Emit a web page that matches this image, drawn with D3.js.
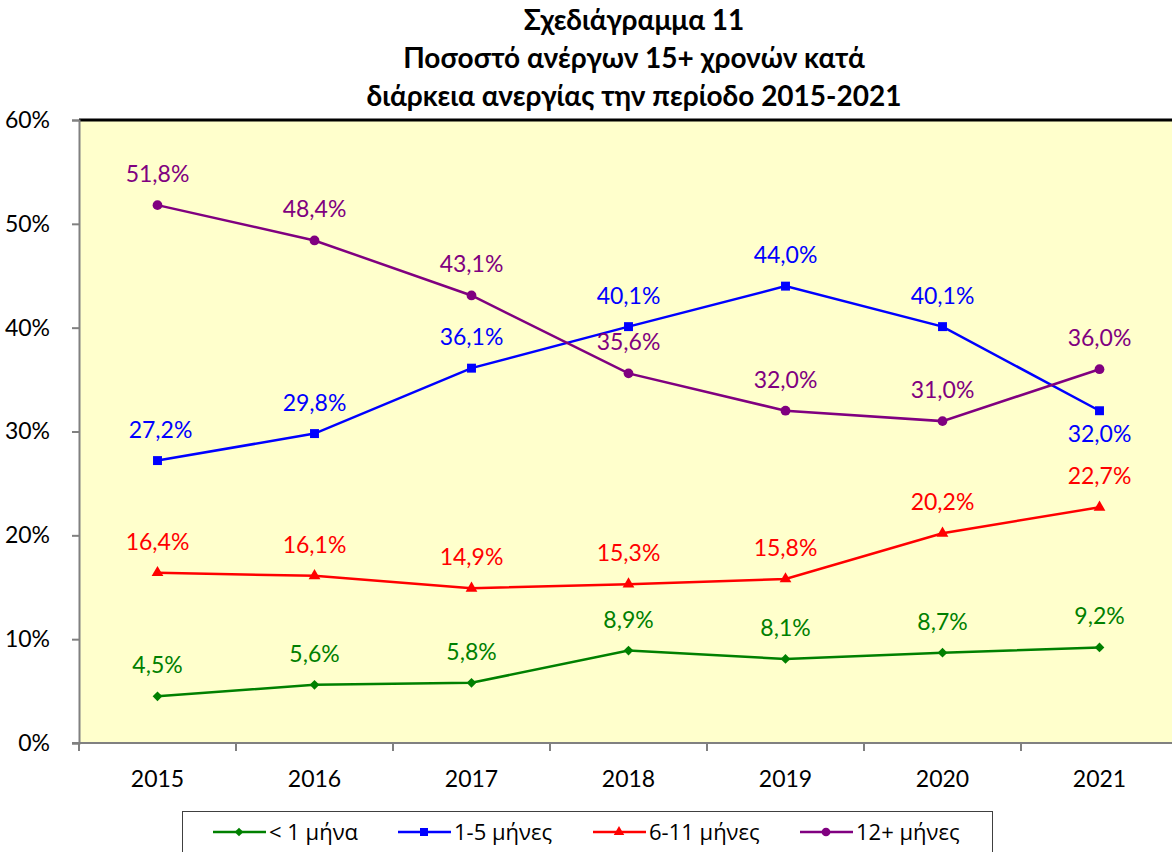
<!DOCTYPE html>
<html>
<head>
<meta charset="utf-8">
<script src="https://cdn.jsdelivr.net/npm/d3@7"></script>
<style>
  body { margin: 0; background: #fff; }
  text { font-family: Lato, "Open Sans", sans-serif; }
</style>
</head>
<body>
<svg id="chart" width="1172" height="852"></svg>
<script>
// data
var years = ["2015", "2016", "2017", "2018", "2019", "2020", "2021"];
var seriesNames = ["< 1 μήνα", "1-5 μήνες", "6-11 μήνες", "12+ μήνες"];
var lessThan1 = [4.5, 5.6, 5.8, 8.9, 8.1, 8.7, 9.2];
var months1to5 = [27.2, 29.8, 36.1, 40.1, 44.0, 40.1, 32.0];
var months6to11 = [16.4, 16.1, 14.9, 15.3, 15.8, 20.2, 22.7];
var months12plus = [51.8, 48.4, 43.1, 35.6, 32.0, 31.0, 36.0];
var yTicks = [0, 10, 20, 30, 40, 50, 60];
var titleLines = ["Σχεδιάγραμμα 11", "Ποσοστό ανέργων 15+ χρονών κατά", "διάρκεια ανεργίας την περίοδο 2015-2021"];

var svg = d3.select("#chart");

var plotLeft = 79, plotTop = 120, plotBottom = 743, plotRight = 1178;

var x = d3.scaleBand().domain(years).range([plotLeft, plotRight]);
var y = d3.scaleLinear().domain([0, 60]).range([plotBottom, plotTop]);

// plot area
svg.append("rect")
    .attr("x", plotLeft).attr("y", plotTop)
    .attr("width", plotRight - plotLeft).attr("height", plotBottom - plotTop)
    .attr("fill", "#FFFFCC");
svg.append("line")
    .attr("x1", plotLeft).attr("x2", plotRight)
    .attr("y1", plotTop).attr("y2", plotTop)
    .attr("stroke", "#000").attr("stroke-width", 3);

// title
svg.append("g").selectAll("text")
    .data(titleLines)
    .enter().append("text")
    .attr("x", 634)
    .attr("y", function(d, i) { return 30 + i * 38; })
    .attr("text-anchor", "middle")
    .attr("font-size", 28)
    .attr("font-weight", "bold")
    .text(function(d) { return d; });

// y axis
var yAxis = svg.append("g")
    .attr("transform", "translate(" + plotLeft + ",0)")
    .call(d3.axisLeft(y).tickValues(yTicks).tickSize(7).tickPadding(22)
        .tickFormat(function(d) { return d + "%"; }));
yAxis.select(".domain").attr("stroke", "#808080").attr("stroke-width", 2);
yAxis.selectAll(".tick line").attr("stroke", "#808080").attr("stroke-width", 2);
yAxis.selectAll(".tick text").attr("font-size", 23).attr("fill", "#000");

// x axis: labels at band centres, ticks at band edges
var xAxis = svg.append("g")
    .attr("transform", "translate(0," + plotBottom + ")")
    .call(d3.axisBottom(x).tickSize(0).tickPadding(28));
xAxis.select(".domain").remove();
xAxis.selectAll(".tick text").attr("font-size", 23).attr("fill", "#000");
svg.append("line")
    .attr("x1", plotLeft - 7).attr("x2", plotRight)
    .attr("y1", plotBottom).attr("y2", plotBottom)
    .attr("stroke", "#808080").attr("stroke-width", 2);
svg.append("g").selectAll("line")
    .data(years)
    .enter().append("line")
    .attr("x1", function(d) { return x(d); })
    .attr("x2", function(d) { return x(d); })
    .attr("y1", plotBottom).attr("y2", plotBottom + 8)
    .attr("stroke", "#808080").attr("stroke-width", 2);

var cx = function(i) { return x(years[i]) + x.bandwidth() / 2; };
var fmt = function(v) { return d3.format(".1f")(v).replace(".", ",") + "%"; };

var series = [
  { name: seriesNames[0], values: lessThan1, color: "#008000", symbol: d3.symbolDiamond2, size: 60 },
  { name: seriesNames[1], values: months1to5, color: "#0000FF", symbol: d3.symbolSquare, size: 80 },
  { name: seriesNames[2], values: months6to11, color: "#FF0000", symbol: d3.symbolTriangle, size: 60 },
  { name: seriesNames[3], values: months12plus, color: "#800080", symbol: d3.symbolCircle, size: 75 }
];

var line = d3.line()
    .x(function(d, i) { return cx(i); })
    .y(function(d) { return y(d); });

series.forEach(function(s, si) {
  var g = svg.append("g");
  g.append("path")
      .datum(s.values)
      .attr("d", line)
      .attr("fill", "none")
      .attr("stroke", s.color)
      .attr("stroke-width", 2.5);
  g.selectAll(".marker")
      .data(s.values)
      .enter().append("path")
      .attr("d", d3.symbol().type(s.symbol).size(s.size))
      .attr("transform", function(d, i) { return "translate(" + cx(i) + "," + y(d) + ")"; })
      .attr("fill", s.color);
  g.selectAll(".lbl")
      .data(s.values)
      .enter().append("text")
      .attr("x", function(d, i) { return cx(i) + (si == 1 && i == 0 ? 3 : 0); })
      .attr("y", function(d, i) {
        // the last 1-5 months label sits under its point
        if (si == 1 && i == years.length - 1) return y(d) + 31;
        return y(d) - 23;
      })
      .attr("text-anchor", "middle")
      .attr("font-size", 23)
      .attr("fill", s.color)
      .text(fmt);
});

// legend
var legend = svg.append("g");
legend.append("rect")
    .attr("x", 182.5).attr("y", 811.5)
    .attr("width", 810).attr("height", 50)
    .attr("fill", "#fff")
    .attr("stroke", "#404040").attr("stroke-width", 1);
var legendX = [213, 398, 593, 800];
series.forEach(function(s, i) {
  var lg = legend.append("g").attr("transform", "translate(" + legendX[i] + ",832)");
  lg.append("line").attr("x1", 0).attr("x2", 53)
      .attr("stroke", s.color).attr("stroke-width", 2.5);
  lg.append("path")
      .attr("d", d3.symbol().type(s.symbol).size(s.size * 0.8))
      .attr("transform", "translate(26,0)")
      .attr("fill", s.color);
  lg.append("text")
      .attr("x", 56).attr("y", 8)
      .attr("font-size", 22)
      .style("font-family", "'Open Sans', sans-serif")
      .attr("fill", "#000")
      .text(s.name);
});
</script>
</body>
</html>
